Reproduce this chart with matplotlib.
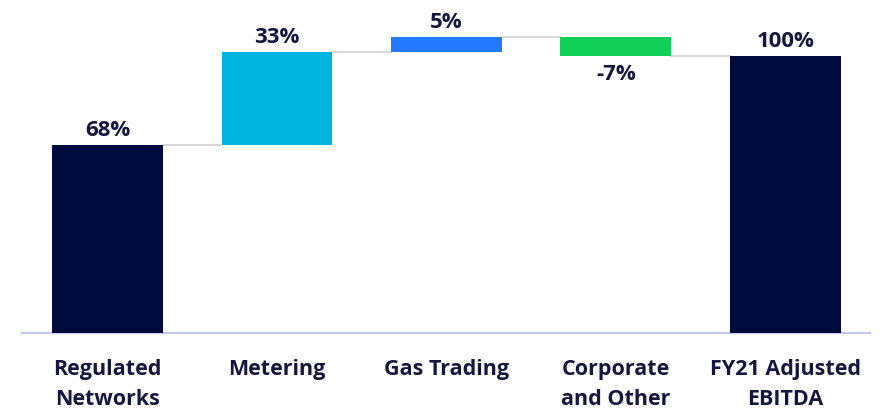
import matplotlib
matplotlib.use("Agg")
import matplotlib.pyplot as plt

categories = ["Regulated\nNetworks", "Metering", "Gas Trading", "Corporate\nand Other", "FY21 Adjusted\nEBITDA"]
changes = [67.9, 33.4, 5.4, -6.7]
total = 100.0
labels = ["68%", "33%", "5%", "-7%", "100%"]
colors = ["#000a3c", "#00b5dd", "#2479ff", "#12cf5a", "#000a3c"]

text_color = "#16163f"
plt.rcParams['font.family'] = ['Open Sans', 'DejaVu Sans']

fig = plt.figure(figsize=(8.87, 4.13), dpi=100)
ax = fig.add_axes([22/887, 80/413, 848/887, 333/413])

bottoms = []
heights = []
run = 0.0
for c in changes:
    if c >= 0:
        bottoms.append(run)
        heights.append(c)
    else:
        bottoms.append(run + c)
        heights.append(-c)
    run += c
bottoms.append(0)
heights.append(total)

x = list(range(len(categories)))
width = 0.655
ax.bar(x, heights, bottom=bottoms, width=width, color=colors, zorder=3)

# connectors
levels = []
run = 0.0
for c in changes:
    run += c
    levels.append(run)
for i, lv in enumerate(levels):
    ax.plot([i + width/2, i + 1 - width/2], [lv, lv], color="#d9d9d9", lw=1.5, zorder=2)

# value labels
for i in range(len(categories)):
    val = changes[i] if i < len(changes) else total
    if val >= 0:
        y = bottoms[i] + heights[i]
        ax.annotate(labels[i], (i, y), xytext=(0, 3), textcoords="offset points",
                    ha="center", va="bottom", fontsize=16, fontweight="bold", color=text_color)
    else:
        y = bottoms[i]
        ax.annotate(labels[i], (i, y), xytext=(0, -6), textcoords="offset points",
                    ha="center", va="top", fontsize=16, fontweight="bold", color=text_color)

ax.set_xlim(-0.505, 4.50)
ax.set_ylim(0, 120.2)
ax.set_xticks(x)
ax.set_xticklabels(categories, fontsize=15.5, fontweight="bold", color=text_color, linespacing=1.55)
ax.tick_params(axis="x", length=0, pad=19)
ax.set_yticks([])
for s in ["top", "right", "left"]:
    ax.spines[s].set_visible(False)
ax.spines["bottom"].set_color("#c3c7f2")
ax.spines["bottom"].set_linewidth(1.5)

fig.savefig("out.png", dpi=100)
